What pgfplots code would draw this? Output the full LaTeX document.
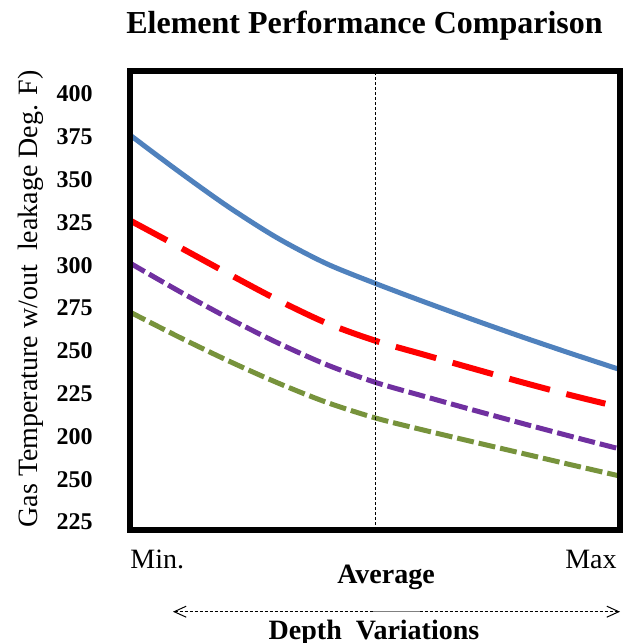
\documentclass[border=0pt]{standalone}
\usepackage{fontspec}
\setmainfont{Liberation Serif}
\usepackage{pgfplots}
\pgfplotsset{compat=1.18}
\usetikzlibrary{arrows.meta}
\definecolor{cblue}{RGB}{79,129,189}
\definecolor{cred}{RGB}{255,0,0}
\definecolor{cpurple}{RGB}{112,48,160}
\definecolor{cgreen}{RGB}{119,147,60}
\begin{document}
\begin{tikzpicture}
\path[use as bounding box] (0,0) rectangle (311pt,321.5pt);
\begin{axis}[
  at={(65pt,56.5pt)}, anchor=south west,
  scale only axis, width=245pt, height=229.5pt,
  xmin=0, xmax=2, ymin=145.3, ymax=413.4,
  xtick=\empty,
  ytick={150,175,...,400},
  yticklabels={225,250,200,225,250,275,300,325,350,375,400},
  major tick length=0pt,
  yticklabel style={font=\fontsize{12}{14}\selectfont\bfseries, inner sep=0pt, anchor=east, xshift=-18.5pt},
  axis line style={line width=3pt, line join=miter},
  axis on top,
  clip=true,
]
\addplot[cblue, line width=2.5pt, smooth] coordinates {
(0,376) (0.2,354.6) (0.4,334.2) (0.6,316.0) (0.8,301.0) (1.0,289.4)
(1.2,278.6) (1.4,268.2) (1.6,258.1) (1.8,248.4) (2.0,239.0)};
\addplot[cred, line width=3pt, smooth, dash pattern=on 21pt off 8.5pt] coordinates {
(0,326.1) (0.2,310.7) (0.4,295.1) (0.6,279.9) (0.8,266.3) (1.0,255.9)
(1.2,247.7) (1.4,239.6) (1.6,231.6) (1.8,224.0) (1.94,219.1)};
\addplot[cpurple, line width=2.5pt, smooth, dash pattern=on 8.5pt off 2.5pt] coordinates {
(0,301.2) (0.2,284.8) (0.4,269.2) (0.6,254.8) (0.8,242.0) (1.0,231.6)
(1.2,223.4) (1.4,215.4) (1.6,207.6) (1.8,200.0) (2.0,192.6)};
\addplot[cgreen, line width=2.5pt, smooth, dash pattern=on 8.5pt off 2.5pt] coordinates {
(0,272.6) (0.2,258.0) (0.4,244.2) (0.6,231.4) (0.8,220.0) (1.0,210.8)
(1.2,203.6) (1.4,196.8) (1.6,190.1) (1.8,183.4) (2.0,176.8)};
\addplot[black, line width=0.5pt, dash pattern=on 1.5pt off 1pt] coordinates {(1,145.3) (1,413.4)};
\end{axis}
\node[font=\fontsize{16}{19}\selectfont\bfseries, anchor=base, inner sep=0pt] at (182.25pt,304.85pt) {Element Performance Comparison};
\node[font=\fontsize{14}{17}\selectfont, rotate=90, anchor=base, inner sep=0pt] at (19pt,172pt) {Gas Temperature w/out\ \ leakage Deg. F)};
\node[font=\fontsize{14}{17}\selectfont, anchor=base west, inner sep=0pt] at (65pt,37.5pt) {Min.};
\node[font=\fontsize{14}{17}\selectfont, anchor=base east, inner sep=0pt] at (308.5pt,37.5pt) {Max};
\node[font=\fontsize{14}{17}\selectfont\bfseries, anchor=base, inner sep=0pt] at (193pt,29.5pt) {Average};
\draw[line width=0.5pt, dash pattern=on 1.5pt off 1pt, {Straight Barb[length=6pt,width=5.5pt]}-{Straight Barb[length=6pt,width=5.5pt]}] (86.5pt,15.65pt) -- (310pt,15.65pt);
\draw[gray, line width=0.6pt] (186.5pt,15.65pt) -- (210pt,15.65pt);
\node[font=\fontsize{14}{17}\selectfont\bfseries, anchor=base, inner sep=0pt] at (187pt,1.75pt) {Depth\ \ Variations};
\end{tikzpicture}
\end{document}
